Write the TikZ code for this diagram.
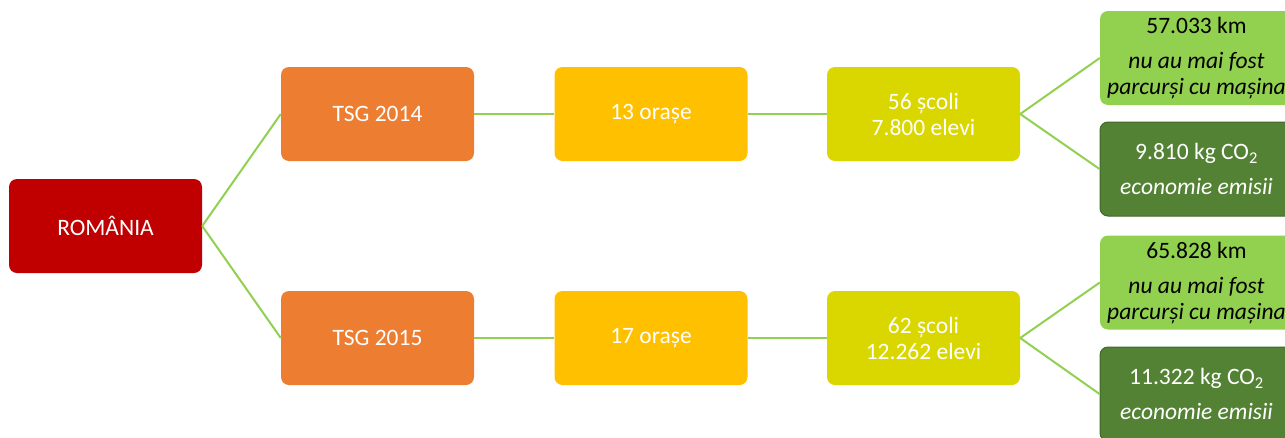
\documentclass[tikz,border=0pt]{standalone}
\usepackage{fontspec}
\setmainfont{Carlito}
\definecolor{roRed}{HTML}{C00000}
\definecolor{tsgOrange}{HTML}{ED7D31}
\definecolor{orAmber}{HTML}{FFC000}
\definecolor{scYellow}{HTML}{DAD600}
\definecolor{kmGreen}{HTML}{92D050}
\definecolor{coGreen}{HTML}{548235}
\definecolor{coEdge}{HTML}{41672A}
\definecolor{linkGreen}{HTML}{92D050}

\begin{document}
\begin{tikzpicture}[x=1pt,y=-1pt,
  box/.style={rounded corners=8pt, minimum width=193pt, minimum height=94pt,
    inner sep=0pt, align=center, text=white, font=\fontsize{23.5}{26}\selectfont},
  link/.style={draw=linkGreen, line width=2pt}]

\useasboundingbox (0,0) rectangle (1285,437);

\node [box, fill=roRed] (ro) at (105.5,226) {ROMÂNIA};

\node [box, fill=tsgOrange] (t14) at (377.5,114) {TSG 2014};
\node [box, fill=tsgOrange] (t15) at (377.5,338) {TSG 2015};

\node [box, fill=orAmber] (o14) at (651,114) {13 orașe};
\node [box, fill=orAmber] (o15) at (651,338) {17 orașe};

\node [box, fill=scYellow] (s14) at (923.5,114) {56 școli\\7.800 elevi};
\node [box, fill=scYellow] (s15) at (923.5,338) {62 școli\\12.262 elevi};

\node [box, fill=kmGreen, text=black] (km14) at (1196.5,58)
  {57.033 km\\[9pt]\textit{nu au mai fost}\\\textit{parcurși cu mașina}};
\node [box, fill=coGreen, draw=coEdge, line width=1pt] (co14) at (1196.5,169)
  {9.810 kg CO\textsubscript{2}\\[9pt]\textit{economie emisii}};
\node [box, fill=kmGreen, text=black] (km15) at (1196.5,282.5)
  {65.828 km\\[9pt]\textit{nu au mai fost}\\\textit{parcurși cu mașina}};
\node [box, fill=coGreen, draw=coEdge, line width=1pt] (co15) at (1196.5,394)
  {11.322 kg CO\textsubscript{2}\\[9pt]\textit{economie emisii}};

\draw [link] (ro.east) edge (t14.west);
\draw [link] (ro.east) edge (t15.west);
\draw [link] (t14) edge (o14);
\draw [link] (t15) edge (o15);
\draw [link] (o14) edge (s14);
\draw [link] (o15) edge (s15);
\draw [link] (s14.east) edge (km14.west);
\draw [link] (s14.east) edge (co14.west);
\draw [link] (s15.east) edge (km15.west);
\draw [link] (s15.east) edge (co15.west);

\end{tikzpicture}
\end{document}
